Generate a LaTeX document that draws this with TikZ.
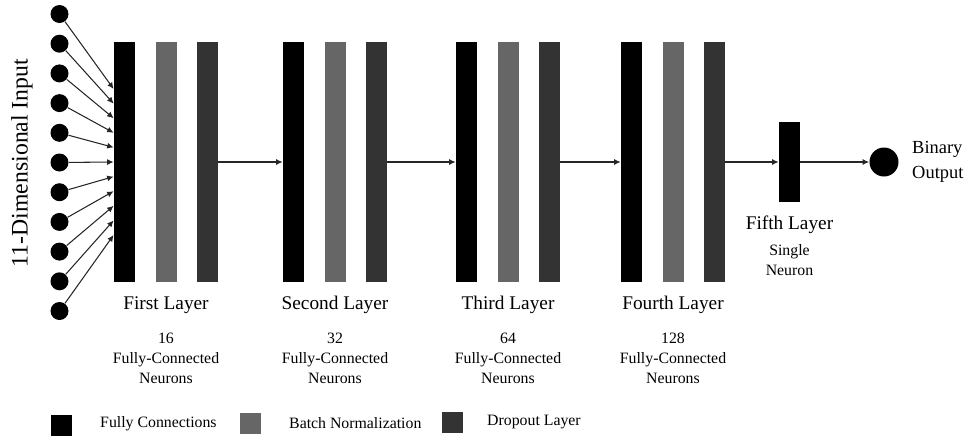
\documentclass[tikz,border=0pt]{standalone}
\usepackage{fontspec}
\setmainfont{Liberation Serif}
\usetikzlibrary{arrows.meta}

\colorlet{fc color}{black}
\colorlet{bn color}{black!60}
\colorlet{drop color}{black!80}
\def\barheight{48mm}
\tikzset{
  fcbar/.style={rectangle, fill=fc color, minimum width=4.2mm, minimum height=\barheight, inner sep=0pt},
  bnbar/.style={fcbar, fill=bn color},
  dropbar/.style={fcbar, fill=drop color},
  legendbox/.style={rectangle, minimum size=4.2mm, inner sep=0pt}
  }
\tikzstyle{edge} = [draw, line width=0.6pt, black!85, -{Latex[length=1.3mm,width=1.2mm]}]
\tikzstyle{vertex}=[circle,fill=black,minimum size=3.6mm,inner sep=0pt]
\tikzstyle{title}=[font=\fontsize{11}{12}\selectfont]
\tikzstyle{info}=[align=center, font=\fontsize{9}{11.4}\selectfont]

\begin{document}
\begin{tikzpicture}[x=0.2mm,y=-0.2mm]
   \useasboundingbox (0,0) rectangle (969,439);

   % four blocks: dense, batch norm, dropout
   \foreach \n/\x/\name/\units in {1/124.5/First/16, 2/293.5/Second/32,
                                   3/466.5/Third/64, 4/631.5/Fourth/128} {
      \node[fcbar]   (fc\n)   at (\x,162) {};
      \node[bnbar]   (bn\n)   at (\x+41.5,162) {};
      \node[dropbar] (drop\n) at (\x+83,162) {};
      \node[title] (name\n) at (\x+41.5,305) {\name{} Layer};
      \node[info]  (units\n) at (\x+41.5,358) {\units\\Fully-Connected\\Neurons};
   }

   % 11 inputs fanning into the first block
   \foreach \i in {0,...,10} {
      \node[vertex] (in\i) at (59.5,14+\i*29.7) {};
      \coordinate (tip\i) at ([yshift={-(\i-5)*2.92mm}]fc1.west);
      \path[edge] (in\i) -- (tip\i);
   }
   \node[rotate=90, font=\fontsize{13.5}{15}\selectfont] (inlabel) at (22,163) {11-Dimensional Input};

   \path[edge] (drop1) -- (fc2);
   \path[edge] (drop2) -- (fc3);
   \path[edge] (drop3) -- (fc4);

   % single output neuron
   \node[fcbar, minimum height=16mm] (fc5) at (789.5,162) {};
   \node[title] (name5) at (789.5,225) {Fifth Layer};
   \node[info]  (units5) at (789.5,260) {Single\\Neuron};
   \node[circle, fill=black, minimum size=5.8mm, inner sep=0pt] (out) at (884,162) {};
   \node[title, anchor=west, align=left, font=\fontsize{10.5}{14}\selectfont] (outlabel) at (906,162) {Binary\\Output};

   \path[edge] (drop4) -- (fc5);
   \path[edge] (fc5) -- (out);

   % legend
   \node[legendbox, fill=fc color]   (lg1) at (61,425) {};
   \node[info, anchor=west] (lgt1) at (94,424) {Fully Connections};
   \node[legendbox, fill=bn color]   (lg2) at (250.5,423) {};
   \node[info, anchor=west] (lgt2) at (283,423) {Batch Normalization};
   \node[legendbox, fill=drop color] (lg3) at (452,422.5) {};
   \node[info, anchor=west] (lgt3) at (481,422) {Dropout Layer};
\end{tikzpicture}
\end{document}
